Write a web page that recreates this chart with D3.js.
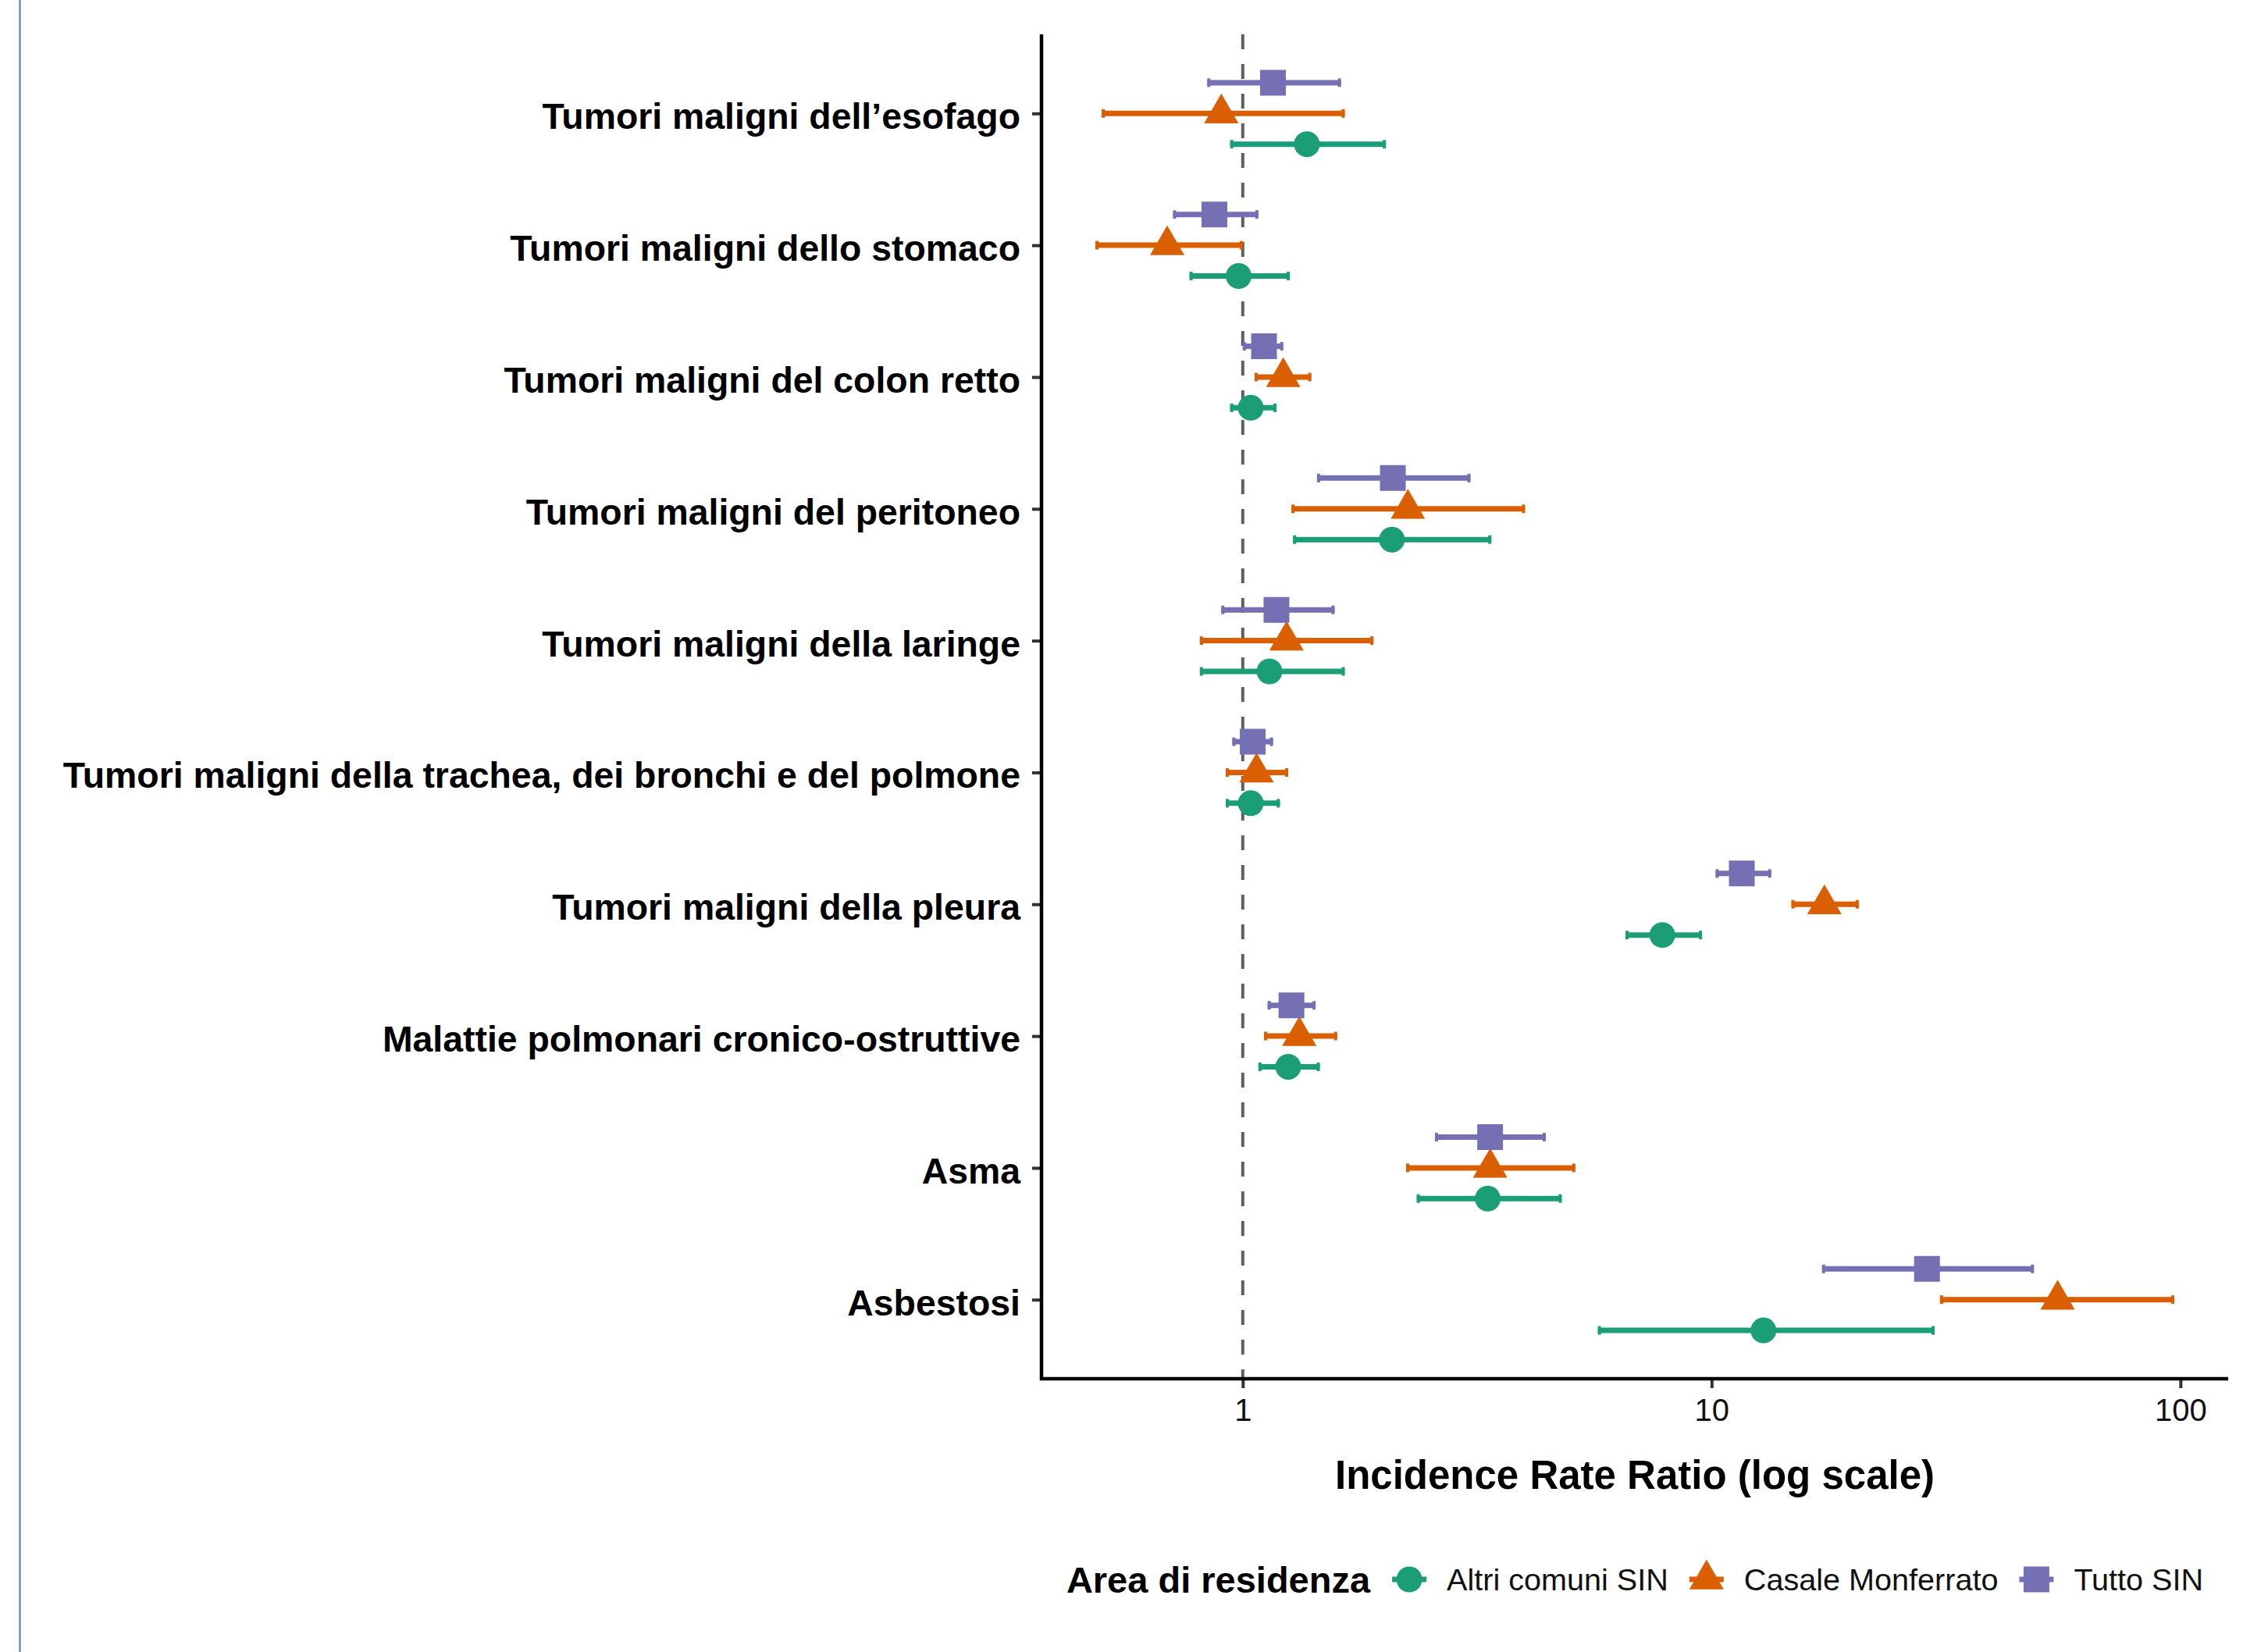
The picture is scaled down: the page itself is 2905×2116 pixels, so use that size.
<!DOCTYPE html>
<html>
<head>
<meta charset="utf-8">
<script src="https://cdn.jsdelivr.net/npm/d3@7"></script>
<style>
  body { margin: 0; background: #fff; }
  svg { display: block; font-family: 'Liberation Sans', Arial, sans-serif; }
</style>
</head>
<body>
<script>
// categories, top to bottom
const categories = [
  'Tumori maligni dell\u2019esofago',
  'Tumori maligni dello stomaco',
  'Tumori maligni del colon retto',
  'Tumori maligni del peritoneo',
  'Tumori maligni della laringe',
  'Tumori maligni della trachea, dei bronchi e del polmone',
  'Tumori maligni della pleura',
  'Malattie polmonari cronico-ostruttive',
  'Asma',
  'Asbestosi'
]

const seriesNames = ['Altri comuni SIN', 'Casale Monferrato', 'Tutto SIN']

// IRR and 95% CI, one array per series
const altriIrr = [1.37, 0.98, 1.04, 2.08, 1.14, 1.04, 7.85, 1.25, 3.33, 12.9]
const altriLo = [0.94, 0.77, 0.94, 1.28, 0.81, 0.92, 6.55, 1.08, 2.35, 5.72]
const altriHi = [2.02, 1.26, 1.18, 3.39, 1.65, 1.20, 9.54, 1.46, 4.79, 29.9]

const casaleIrr = [0.90, 0.69, 1.22, 2.25, 1.24, 1.07, 17.4, 1.32, 3.37, 54.7]
const casaleLo = [0.50, 0.485, 1.06, 1.27, 0.81, 0.92, 14.8, 1.11, 2.23, 30.7]
const casaleHi = [1.65, 1.00, 1.40, 4.00, 1.90, 1.25, 20.6, 1.59, 5.12, 97]

const tuttoIrr = [1.16, 0.87, 1.11, 2.09, 1.18, 1.05, 11.6, 1.27, 3.37, 28.8]
const tuttoLo = [0.84, 0.71, 1.00, 1.44, 0.90, 0.95, 10.2, 1.13, 2.57, 17.2]
const tuttoHi = [1.62, 1.08, 1.22, 3.06, 1.57, 1.16, 13.4, 1.43, 4.43, 48.7]

const xTicks = [1, 10, 100]

const W = 2905
const H = 2116
const panel = { left: 1334, right: 2854, top: 44, bottom: 1766 }

const colors = { 'Altri comuni SIN': '#1B9E77', 'Casale Monferrato': '#D95F02', 'Tutto SIN': '#7570B3' }
const shapes = { 'Altri comuni SIN': d3.symbolCircle, 'Casale Monferrato': d3.symbolTriangle, 'Tutto SIN': d3.symbolSquare }
const sizes = { 'Altri comuni SIN': 855, 'Casale Monferrato': 840, 'Tutto SIN': 1089 }

const rows = []
const src = [
  [altriIrr, altriLo, altriHi],
  [casaleIrr, casaleLo, casaleHi],
  [tuttoIrr, tuttoLo, tuttoHi]
]
seriesNames.forEach((s, si) => {
  categories.forEach((c, ci) => {
    rows.push({ series: s, cat: c, irr: src[si][0][ci], lo: src[si][1][ci], hi: src[si][2][ci] })
  })
})

const svg = d3.select('body').append('svg')
  .attr('width', W)
  .attr('height', H)

// page border at the left
svg.append('line')
  .attr('x1', 25.5).attr('x2', 25.5)
  .attr('y1', 0).attr('y2', H)
  .attr('stroke', '#4472C4')
  .attr('stroke-width', 2)

// log x scale with 5% expansion like ggplot
const lmin = Math.log10(d3.min(rows, d => d.lo))
const lmax = Math.log10(d3.max(rows, d => d.hi))
const pad = (lmax - lmin) * 0.05
const x = d3.scaleLog()
  .domain([Math.pow(10, lmin - pad), Math.pow(10, lmax + pad)])
  .range([panel.left, panel.right])

const y = d3.scalePoint()
  .domain(categories)
  .range([panel.top, panel.bottom])
  .padding(0.6)

const step = y.step()
const dodge = d3.scalePoint()
  .domain(['Tutto SIN', 'Casale Monferrato', 'Altri comuni SIN'])
  .range([-step * 0.7 / 3, step * 0.7 / 3])

// reference line at IRR = 1
svg.append('line')
  .attr('x1', x(1)).attr('x2', x(1))
  .attr('y1', panel.top).attr('y2', panel.bottom)
  .attr('stroke', '#5f5f5f')
  .attr('stroke-width', 4)
  .attr('stroke-dasharray', '19,19')

// error bars
const bars = svg.append('g').selectAll('g')
  .data(rows)
  .join('g')
  .attr('transform', d => `translate(0,${y(d.cat) + dodge(d.series)})`)
  .attr('stroke', d => colors[d.series])

bars.append('line')
  .attr('x1', d => x(d.lo)).attr('x2', d => x(d.hi))
  .attr('stroke-width', 7)
bars.append('line')
  .attr('x1', d => x(d.lo) + 2).attr('x2', d => x(d.lo) + 2)
  .attr('y1', -5.5).attr('y2', 5.5)
  .attr('stroke-width', 4)
bars.append('line')
  .attr('x1', d => x(d.hi) - 2).attr('x2', d => x(d.hi) - 2)
  .attr('y1', -5.5).attr('y2', 5.5)
  .attr('stroke-width', 4)

// points
svg.append('g').selectAll('path')
  .data(rows)
  .join('path')
  .attr('d', d => d3.symbol(shapes[d.series], sizes[d.series])())
  .attr('transform', d => `translate(${x(d.irr)},${y(d.cat) + dodge(d.series)})`)
  .attr('fill', d => colors[d.series])

// y axis
const yAxis = svg.append('g')
  .attr('transform', `translate(${panel.left},0)`)
  .call(d3.axisLeft(y).tickSize(12).tickPadding(15))
yAxis.select('.domain').remove()
yAxis.selectAll('.tick line').attr('stroke', '#333').attr('stroke-width', 4)
yAxis.selectAll('.tick text')
  .attr('fill', '#000')
  .attr('font-size', 46.4)
  .attr('font-weight', 'bold')
  .attr('dy', '0.42em')

// x axis
const xAxis = svg.append('g')
  .attr('transform', `translate(0,${panel.bottom})`)
  .call(d3.axisBottom(x).tickValues(xTicks).tickFormat(d3.format('d')).tickSize(12).tickPadding(14))
xAxis.select('.domain').remove()
xAxis.selectAll('.tick line').attr('stroke', '#333').attr('stroke-width', 4)
xAxis.selectAll('.tick text')
  .attr('fill', '#111')
  .attr('font-size', 40)

// axis lines (L shape)
svg.append('path')
  .attr('d', `M${panel.left},${panel.top}V${panel.bottom}H${panel.right}`)
  .attr('fill', 'none')
  .attr('stroke', '#000')
  .attr('stroke-width', 4.5)

// x title
svg.append('text')
  .attr('x', (panel.left + panel.right) / 2)
  .attr('y', 1907)
  .attr('text-anchor', 'middle')
  .attr('font-size', 51)
  .attr('font-weight', 'bold')
  .text('Incidence Rate Ratio (log scale)')

// legend
const legend = svg.append('g')
const ly = 2023
const title = legend.append('text')
  .attr('x', 0).attr('y', ly)
  .attr('dy', '0.36em')
  .attr('font-size', 47)
  .attr('font-weight', 'bold')
  .text('Area di residenza')
let cx = title.node().getComputedTextLength() + 50
seriesNames.forEach(s => {
  const k = legend.append('g').attr('transform', `translate(${cx},${ly})`)
  k.append('line')
    .attr('x1', -22).attr('x2', 22)
    .attr('stroke', colors[s])
    .attr('stroke-width', 7)
  k.append('path')
    .attr('d', d3.symbol(shapes[s], sizes[s])())
    .attr('fill', colors[s])
  const t = legend.append('text')
    .attr('x', cx + 48).attr('y', ly)
    .attr('dy', '0.36em')
    .attr('font-size', 39.6)
    .attr('fill', '#111')
    .text(s)
  cx = cx + 48 + t.node().getComputedTextLength() + 49
})
const lw = cx - 49
legend.attr('transform', `translate(${(panel.left + panel.right) / 2 - lw / 2},0)`)
</script>
</body>
</html>
